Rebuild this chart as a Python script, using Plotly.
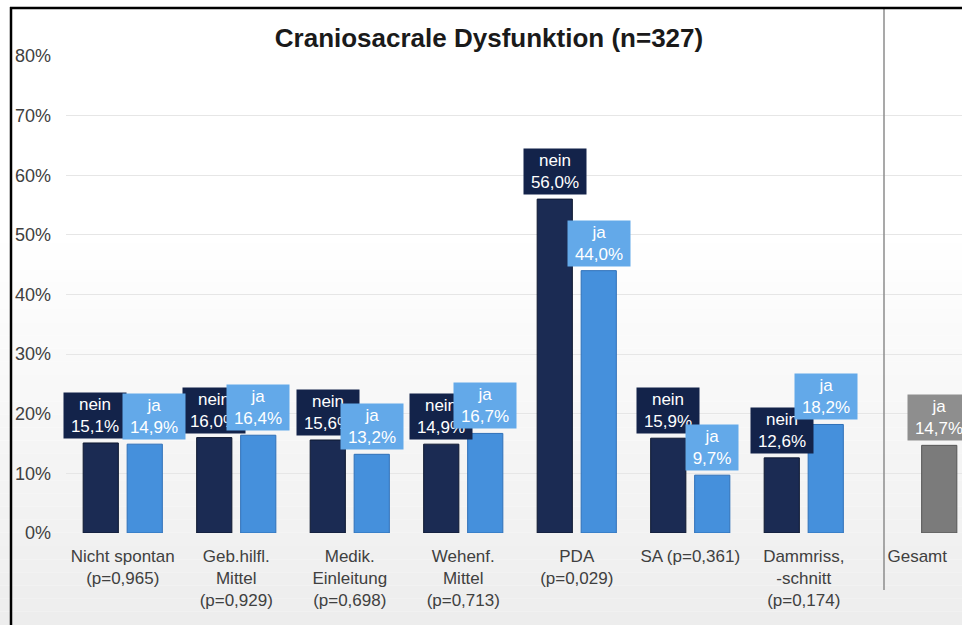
import plotly.graph_objects as go

categories = [
    "Nicht spontan<br>(p=0,965)",
    "Geb.hilfl.<br>Mittel<br>(p=0,929)",
    "Medik.<br>Einleitung<br>(p=0,698)",
    "Wehenf.<br>Mittel<br>(p=0,713)",
    "PDA<br>(p=0,029)",
    "SA (p=0,361)",
    "Dammriss,<br>-schnitt<br>(p=0,174)",
    "Gesamt",
]
nein_vals = [15.1, 16.0, 15.6, 14.9, 56.0, 15.9, 12.6, None]
ja_vals = [14.9, 16.4, 13.2, 16.7, 44.0, 9.7, 18.2, 14.7]
y_ticks = [0, 10, 20, 30, 40, 50, 60, 70, 80]
y_labels = ["0%", "10%", "20%", "30%", "40%", "50%", "60%", "70%", "80%"]

FONT = "Liberation Sans, Arial, sans-serif"
NAVY_BAR, NAVY_BOX = "#1b2b53", "#13234a"
BLUE_BAR, BLUE_BOX = "#4590dc", "#63a9e9"
GREY_BAR, GREY_BOX = "#7b7b7b", "#8e8e8e"

W, H = 962, 625
L, R, T, B = 66, 0, 56, 92

# the first pair of value boxes is pushed apart in the slide (px, nein/ja)
LABEL_NUDGE = {0: (-6, 9)}


def px_x(px):
    return (px - L) / (W - L - R)


def px_y(py):
    return (H - py - B) / (H - T - B)


def pct(v):
    return f"{v:.1f}%".replace(".", ",")


def box_width(label):
    # labels in the slide are a little wider than the text itself
    return 10 * len(label) + 8


fig = go.Figure()
fig.add_trace(go.Bar(
    x=categories, y=nein_vals, name="nein",
    marker=dict(color=NAVY_BAR, line=dict(color="#0e1830", width=1)),
))
fig.add_trace(go.Bar(
    x=categories, y=ja_vals, name="ja",
    marker=dict(
        color=[BLUE_BAR] * (len(categories) - 1) + [GREY_BAR],
        line=dict(color=["#2f70b8"] * (len(categories) - 1) + ["#555555"], width=1),
    ),
))

# value boxes above the bars
for i, (cat, v) in enumerate(zip(categories, nein_vals)):
    if v is None:
        continue
    fig.add_annotation(x=cat, y=v, xshift=-22 + LABEL_NUDGE.get(i, (0, 0))[0],
                       yshift=4, yanchor="bottom",
                       text=f"nein<br>{pct(v)}", showarrow=False,
                       width=box_width(pct(v)),
                       bgcolor=NAVY_BOX, borderpad=2,
                       font=dict(family=FONT, size=17, color="white"))
for i, (cat, v) in enumerate(zip(categories, ja_vals)):
    fig.add_annotation(x=cat, y=v, xshift=22 + LABEL_NUDGE.get(i, (0, 0))[1],
                       yshift=4, yanchor="bottom",
                       text=f"ja<br>{pct(v)}", showarrow=False,
                       width=box_width(pct(v)),
                       bgcolor=GREY_BOX if i == len(categories) - 1 else BLUE_BOX,
                       borderpad=2,
                       font=dict(family=FONT, size=17, color="white"))

# soft grey gradient towards the bottom of the slide
shapes = []
steps = 30
top_px, bot_px = 230, H
for k in range(steps):
    y0 = top_px + (bot_px - top_px) * k / steps
    y1 = top_px + (bot_px - top_px) * (k + 1) / steps
    g = round(255 - 18 * (k + 0.5) / steps)
    shapes.append(dict(type="rect", xref="paper", yref="paper", layer="below",
                       x0=px_x(0), x1=px_x(W), y0=px_y(y1), y1=px_y(y0),
                       fillcolor=f"rgb({g},{g},{g})", line=dict(width=0)))
# separator before "Gesamt"
shapes.append(dict(type="line", xref="paper", yref="paper",
                   x0=px_x(884), x1=px_x(884), y0=px_y(590), y1=px_y(8),
                   line=dict(color="#8c8c8c", width=1.5)))
# slide frame
shapes.append(dict(type="line", xref="paper", yref="paper",
                   x0=px_x(11), x1=px_x(11), y0=px_y(H), y1=px_y(7),
                   line=dict(color="black", width=2.5)))
shapes.append(dict(type="line", xref="paper", yref="paper",
                   x0=px_x(10), x1=px_x(W), y0=px_y(8), y1=px_y(8),
                   line=dict(color="black", width=2.5)))

fig.update_layout(
    width=W, height=H,
    margin=dict(l=L, r=R, t=T, b=B),
    paper_bgcolor="white", plot_bgcolor="rgba(0,0,0,0)",
    showlegend=False,
    barmode="group", bargap=0.225, bargroupgap=0.2,
    title=dict(text="<b>Craniosacrale Dysfunktion (n=327)</b>",
               x=489 / W, xanchor="center", y=1 - 38 / H, yanchor="middle",
               font=dict(family=FONT, size=26, color="#1a1a1a")),
    font=dict(family=FONT, size=17, color="#404040"),
    shapes=shapes,
)
fig.update_xaxes(range=[-0.5, (W - L - R) / 113.5 - 0.5], showgrid=False,
                 showline=False, zeroline=False, ticks="", ticklabelstandoff=11,
                 tickfont=dict(family=FONT, size=17, color="#404040"))
fig.update_yaxes(range=[0, 80], tickvals=y_ticks, ticktext=y_labels,
                 showgrid=True, gridcolor="#e6e6e6", gridwidth=1,
                 zeroline=False, showline=False, ticklabelstandoff=14,
                 tickfont=dict(family=FONT, size=18, color="#404040"))

# the page body has a default 8px margin; drop it so the figure sits at 0,0
fig.write_html("out.html", config={"displayModeBar": False},
               post_script="document.body.style.margin = '0';")
